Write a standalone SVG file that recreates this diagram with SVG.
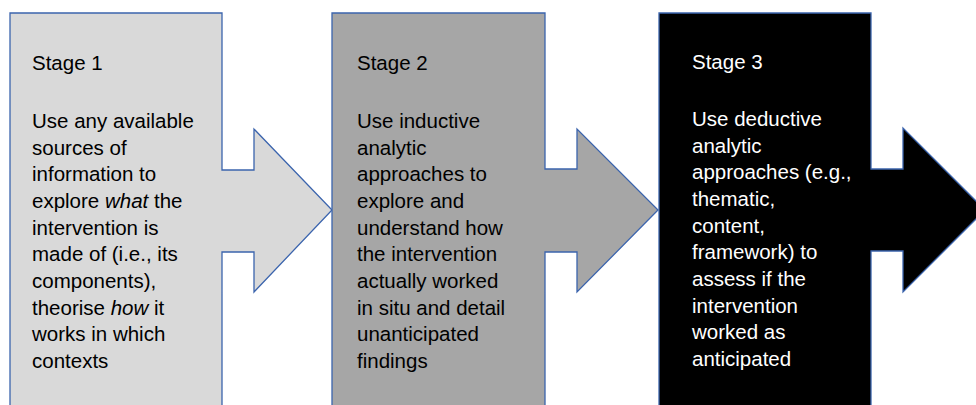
<svg xmlns="http://www.w3.org/2000/svg" width="976" height="405" viewBox="0 0 976 405">
<style>
.shape{stroke:#3B64AD;stroke-width:1.3;stroke-linejoin:miter}
.t{font-family:"Liberation Sans",Arial,sans-serif;font-size:20.5px}
.dark{fill:#000}
.light{fill:#fff}
</style>
<rect width="976" height="405" fill="#fff"/>
<g id="stage1">
<path class="shape" fill="#D9D9D9" d="M10,13 H222 V170 H254 V129 L332,210 L254,292 V252 H222 V410 H10 Z"/>
<text class="t dark" x="32" y="70">Stage 1</text>
<text class="t dark" x="32">
<tspan x="32" y="128">Use any available</tspan>
<tspan x="32" y="154.7">sources of</tspan>
<tspan x="32" y="181.3">information to</tspan>
<tspan x="32" y="208">explore <tspan font-style="italic">what</tspan> the</tspan>
<tspan x="32" y="234.7">intervention is</tspan>
<tspan x="32" y="261.3">made of (i.e., its</tspan>
<tspan x="32" y="288">components),</tspan>
<tspan x="32" y="314.7">theorise <tspan font-style="italic">how</tspan> it</tspan>
<tspan x="32" y="341.3">works in which</tspan>
<tspan x="32" y="368">contexts</tspan>
</text>
</g>
<g id="stage2">
<path class="shape" fill="#A6A6A6" d="M332,13 H545 V169 H577 V129 L658,210 L577,292 V252 H545 V410 H332 Z"/>
<text class="t dark" x="357" y="70">Stage 2</text>
<text class="t dark">
<tspan x="357" y="128">Use inductive</tspan>
<tspan x="357" y="154.7">analytic</tspan>
<tspan x="357" y="181.3">approaches to</tspan>
<tspan x="357" y="208">explore and</tspan>
<tspan x="357" y="234.7">understand how</tspan>
<tspan x="357" y="261.3">the intervention</tspan>
<tspan x="357" y="288">actually worked</tspan>
<tspan x="357" y="314.7">in situ and detail</tspan>
<tspan x="357" y="341.3">unanticipated</tspan>
<tspan x="357" y="368">findings</tspan>
</text>
</g>
<g id="stage3">
<path class="shape" fill="#000" d="M659,13 H871 V169 H903 V128 L985,210 L903,292 V251 H871 V410 H659 Z"/>
<text class="t light" x="692" y="69">Stage 3</text>
<text class="t light">
<tspan x="692" y="126">Use deductive</tspan>
<tspan x="692" y="152.7">analytic</tspan>
<tspan x="692" y="179.3">approaches (e.g.,</tspan>
<tspan x="692" y="206">thematic,</tspan>
<tspan x="692" y="232.7">content,</tspan>
<tspan x="692" y="259.3">framework) to</tspan>
<tspan x="692" y="286">assess if the</tspan>
<tspan x="692" y="312.7">intervention</tspan>
<tspan x="692" y="339.3">worked as</tspan>
<tspan x="692" y="366">anticipated</tspan>
</text>
</g>
<g id="connectors"></g>
</svg>
